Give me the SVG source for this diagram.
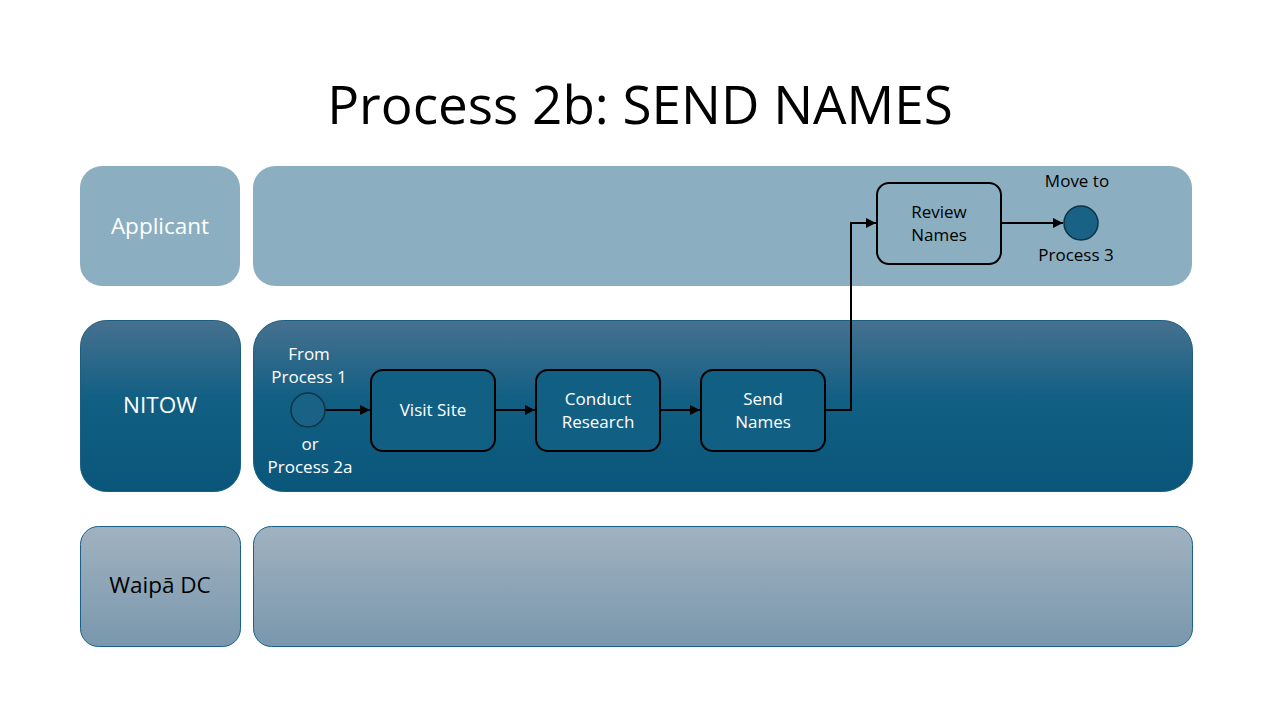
<svg xmlns="http://www.w3.org/2000/svg" width="1280" height="720" viewBox="0 0 1280 720">
<defs>
<linearGradient id="gNitow" x1="0" y1="0" x2="0" y2="1"><stop offset="0" stop-color="#47718F"/><stop offset="0.45" stop-color="#125F84"/><stop offset="1" stop-color="#09567A"/></linearGradient>
<linearGradient id="gWaipa" x1="0" y1="0" x2="0" y2="1"><stop offset="0" stop-color="#A0B2C0"/><stop offset="1" stop-color="#7A97AD"/></linearGradient>
<marker id="arr" viewBox="0 0 10 10" refX="10" refY="5" markerWidth="5" markerHeight="5" orient="auto"><path d="M0,0 L10,5 L0,10 z" fill="#000"/></marker>
</defs>
<style>
.t{font-family:"Open Sans","Liberation Sans",sans-serif;text-anchor:middle}
.w{fill:#fff;font-size:17px}
.b{fill:#000;font-size:17px}
.lane{font-size:22.5px}
.task{stroke:#000;stroke-width:2}
.conn{fill:none;stroke:#000;stroke-width:2;marker-end:url(#arr)}
</style>
<rect width="1280" height="720" fill="#fff"/>
<text class="t" x="640" y="124" font-size="53" fill="#000">Process 2b: SEND NAMES</text>
<g id="lane-applicant">
<rect x="80" y="166" width="160" height="120" rx="22" fill="#8BAFC1"/>
<rect x="253" y="166" width="939" height="120" rx="22" fill="#8BAFC1"/>
<text class="t w lane" x="160" y="234">Applicant</text>
</g>
<g id="lane-nitow">
<rect x="80.5" y="320.5" width="160" height="171" rx="26" fill="url(#gNitow)" stroke="#1A5F80"/>
<rect x="253.5" y="320.5" width="939" height="171" rx="30" fill="url(#gNitow)" stroke="#1A5F80"/>
<text class="t w lane" x="160" y="413">NITOW</text>
</g>
<g id="lane-waipa">
<rect x="80.5" y="526.5" width="160" height="120" rx="18" fill="url(#gWaipa)" stroke="#1A6189"/>
<rect x="253.5" y="526.5" width="939" height="120" rx="18" fill="url(#gWaipa)" stroke="#1A6189"/>
<text class="t b lane" x="160" y="593">Waipā DC</text>
</g>
<g id="connectors">
<path class="conn" d="M325,410 L370,410"/>
<path class="conn" d="M495,410 L535,410"/>
<path class="conn" d="M660,410 L700,410"/>
<path class="conn" d="M825,410 L851,410 L851,223 L876,223"/>
<path class="conn" d="M1001,223 L1063,223"/>
</g>
<g id="start">
<circle cx="308" cy="410" r="17" fill="#1A6186" stroke="#0D3447" stroke-width="1.5"/>
<text class="t w" x="309" y="360">From</text>
<text class="t w" x="309" y="383">Process 1</text>
<text class="t w" x="310" y="450">or</text>
<text class="t w" x="310" y="473">Process 2a</text>
</g>
<g id="visit-site">
<rect class="task" x="371" y="370" width="124" height="81" rx="12" fill="#125F84"/>
<text class="t w" x="433" y="416">Visit Site</text>
</g>
<g id="conduct-research">
<rect class="task" x="536" y="370" width="124" height="81" rx="12" fill="#125F84"/>
<text class="t w" x="598" y="405">Conduct</text>
<text class="t w" x="598" y="428">Research</text>
</g>
<g id="send-names">
<rect class="task" x="701" y="370" width="124" height="81" rx="12" fill="#125F84"/>
<text class="t w" x="763" y="405">Send</text>
<text class="t w" x="763" y="428">Names</text>
</g>
<g id="review-names">
<rect class="task" x="877" y="183" width="124" height="81" rx="12" fill="#8BAFC1"/>
<text class="t b" x="939" y="218">Review</text>
<text class="t b" x="939" y="241">Names</text>
</g>
<g id="end">
<circle cx="1081" cy="223" r="17" fill="#1A6186" stroke="#0D3447" stroke-width="1.5"/>
<text class="t b" x="1077" y="187">Move to</text>
<text class="t b" x="1076" y="261">Process 3</text>
</g>
</svg>
